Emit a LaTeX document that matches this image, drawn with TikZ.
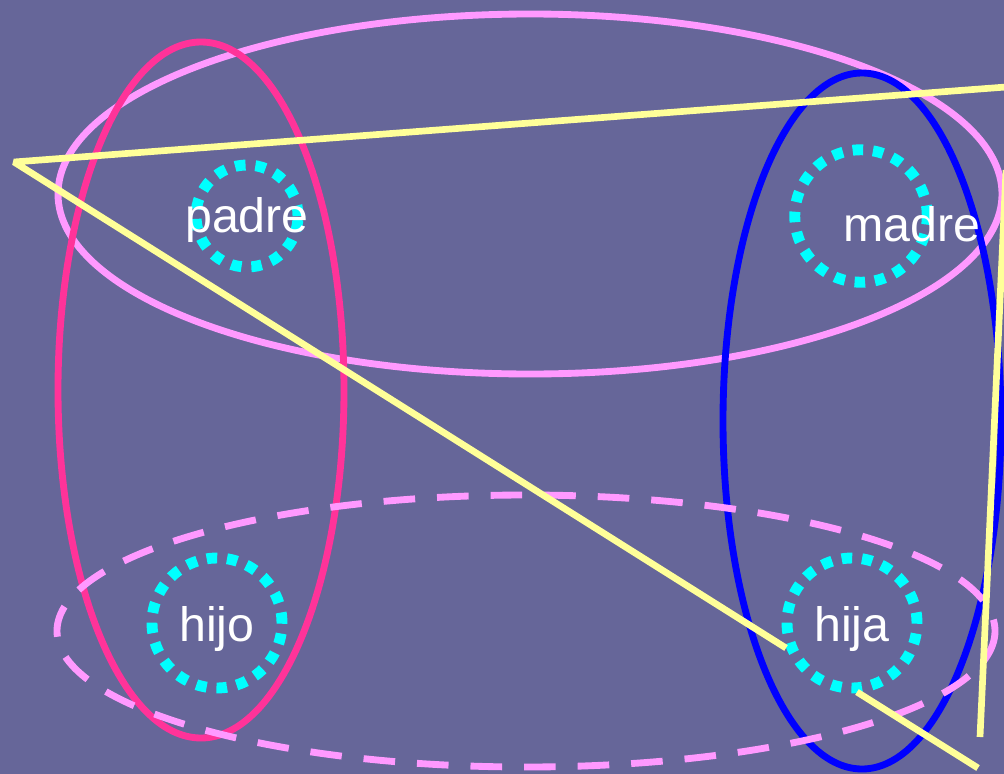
\documentclass[tikz,border=0pt]{standalone}
\usepackage{fontspec}
\setmainfont{Liberation Sans}
\usepackage{tikz}
\usetikzlibrary{calc}
\definecolor{slateBg}{RGB}{102,102,153}
\definecolor{lightPink}{RGB}{255,153,255}
\definecolor{hotPink}{RGB}{255,51,153}
\definecolor{paleYellow}{RGB}{255,255,153}
\definecolor{aqua}{RGB}{0,255,255}
\tikzset{
    group/.style={line width=3.9pt},
    member/.style={circle,draw=aqua,line width=6.2pt,dash pattern=on 6pt off 5.6pt,minimum size=#1},
    kinlabel/.style={text=white,font=\fontsize{27.5}{31}\selectfont},
    link/.style={paleYellow,line width=3.8pt,line join=bevel}
}
\begin{document}
\begin{tikzpicture}[x=0.02cm,y=-0.02cm]
  \fill[slateBg] (0,0) rectangle (1004,774);
  \useasboundingbox (0,0) rectangle (1004,774);
  \clip (0,0) rectangle (1004,774);

  \draw[group,lightPink] (530,194) ellipse [x radius=472, y radius=180];
  \draw[group,hotPink] (201,390) ellipse [x radius=143, y radius=348];
  \draw[group,blue] (862,421) ellipse [x radius=139, y radius=348];
  \draw[group,lightPink,dash pattern=on 18pt off 12.5pt] (526,631) ellipse [x radius=469, y radius=136];

  \node[member=2.04cm] (cpadre) at (247,216) {};
  \node[member=2.65cm] (cmadre) at (861,216) {};
  \node[member=2.6cm] (chijo) at (217,623) {};
  \node[member=2.6cm] (chija) at (852,623) {};

  \node[kinlabel] (padre) at (247,220) {padre};
  \node[kinlabel] (madre) at (912,224) {madre};
  \node[kinlabel] (hijo) at (217,629) {hijo};
  \node[kinlabel] (hija) at (852,629) {hija};

  \coordinate (apex) at (14,162);
  \coordinate (topright) at (1006,87);
  \coordinate (sideA) at (1006,170);
  \coordinate (sideB) at (980,737);
  \coordinate (hijaIn) at (786,648);
  \coordinate (hijaOut) at (857,692);
  \coordinate (corner) at (978,768);

  \draw[link] (topright) -- (apex) -- (hijaIn);
  \draw[link] (sideA) -- (sideB);
  \draw[link] (hijaOut) -- (corner);
\end{tikzpicture}
\end{document}
